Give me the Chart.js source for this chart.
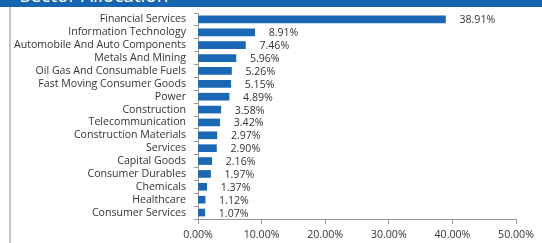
<!DOCTYPE html>
<html>
<head>
<meta charset="utf-8">
<script src="https://cdn.jsdelivr.net/npm/chart.js@4"></script>
<style>
  html, body { margin: 0; padding: 0; background: #fff; }
  body { width: 542px; height: 243px; position: relative; overflow: hidden; font-family: "Open Sans", sans-serif; }
  .header { position: absolute; left: 0; top: 0; width: 542px; height: 7px; background: #1565b0; overflow: hidden; }
  .header span { position: absolute; left: 20px; top: -14px; font-size: 19px; line-height: 19px; color: #fff; white-space: nowrap; }
  .border { position: absolute; left: 9px; top: 7px; width: 2px; height: 236px; background: #c4c4c4; }
  .wrap { position: absolute; left: 10px; top: 7px; width: 532px; height: 236px; }
</style>
</head>
<body>
<div class="header"><span>Sector Allocation</span></div>
<div class="border"></div>
<div class="wrap"><canvas id="chart"></canvas></div>
<script>
const sectores = [
    "Financial Services", "Information Technology", "Automobile And Auto Components",
    "Metals And Mining", "Oil Gas And Consumable Fuels", "Fast Moving Consumer Goods",
    "Power", "Construction", "Telecommunication", "Construction Materials", "Services",
    "Capital Goods", "Consumer Durables", "Chemicals", "Healthcare", "Consumer Services"
];
const pesos = [38.91, 8.91, 7.46, 5.96, 5.26, 5.15, 4.89, 3.58, 3.42, 2.97, 2.90, 2.16, 1.97, 1.37, 1.12, 1.07];
const ejeX = { min: 0, max: 50, paso: 10 };

const textColor = "#333333";
const barColor = "#1a67b6";
const fontSize = 10.6;

// etiquetas de porcentaje al final de cada barra
const valueLabels = {
    id: "valueLabels",
    afterDatasetsDraw(chart) {
        const ctx = chart.ctx;
        const meta = chart.getDatasetMeta(0);
        ctx.save();
        ctx.font = fontSize + "px 'Open Sans'";
        ctx.fillStyle = textColor;
        ctx.textBaseline = "middle";
        ctx.textAlign = "left";
        meta.data.forEach((bar, i) => {
            ctx.fillText(pesos[i].toFixed(2) + "%", bar.x + 14, bar.y + 1);
        });
        ctx.restore();
    }
};

new Chart(document.getElementById("chart"), {
    type: "bar",
    data: {
        labels: sectores,
        datasets: [{
            data: pesos,
            backgroundColor: barColor,
            barThickness: 7
        }]
    },
    options: {
        indexAxis: "y",
        responsive: true,
        maintainAspectRatio: false,
        animation: false,
        layout: { padding: { top: 6, right: 26, left: 0, bottom: 0 } },
        plugins: { legend: { display: false }, tooltip: { enabled: false } },
        scales: {
            x: {
                min: ejeX.min,
                max: ejeX.max,
                ticks: {
                    stepSize: ejeX.paso,
                    color: textColor,
                    font: { family: "'Open Sans'", size: fontSize },
                    padding: 5,
                    maxRotation: 0,
                    callback: v => v.toFixed(2) + "%"
                },
                grid: { drawOnChartArea: false, color: "#999", tickLength: 5 },
                border: { color: "#999" },
                afterFit: s => { s.height = 24; }
            },
            y: {
                ticks: {
                    color: textColor,
                    font: { family: "'Open Sans'", size: fontSize },
                    padding: 8,
                    autoSkip: false
                },
                grid: { drawOnChartArea: false, color: "#999", tickLength: 4 },
                border: { color: "#999" },
                afterFit: s => { s.width = 188; s.paddingTop = 0; s.paddingBottom = 0; }
            }
        }
    },
    plugins: [valueLabels]
});
</script>
</body>
</html>
